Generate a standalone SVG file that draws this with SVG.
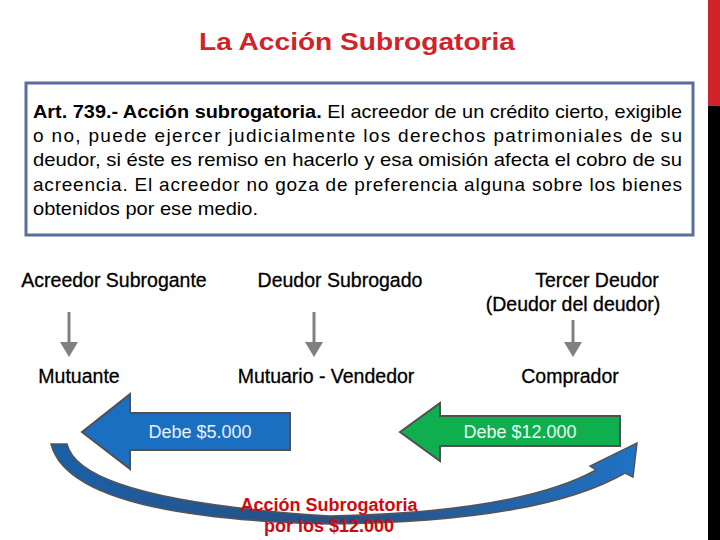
<svg xmlns="http://www.w3.org/2000/svg" width="720" height="540" viewBox="0 0 720 540">
<style>
text{font-family:"Liberation Sans",Arial,sans-serif}
.lbl{font-size:19.5px;fill:#000;text-anchor:middle;font-weight:500;stroke:#000;stroke-width:0.3}
.body{font-size:19px;fill:#000}
.ar{stroke:#808080;stroke-width:3;fill:none}
</style>
<defs>
<marker id="ah" markerWidth="6" markerHeight="6" refX="4" refY="3" orient="auto" markerUnits="strokeWidth"><path d="M0,0 L5,3 L0,6 Z" fill="#808080"/></marker>
<linearGradient id="cg" x1="0" y1="0" x2="1" y2="0"><stop offset="0" stop-color="#1a5fa8"/><stop offset="0.5" stop-color="#2a4f80"/><stop offset="1" stop-color="#1f72c4"/></linearGradient>
</defs>
<rect width="720" height="540" fill="#fff"/>
<rect x="708" y="0" width="12" height="106" fill="#d1232a"/>
<rect x="708" y="106" width="12" height="434" fill="#000"/>
<text x="199" y="50" font-size="24" font-weight="bold" fill="#d1232a" textLength="316" lengthAdjust="spacingAndGlyphs">La Acción Subrogatoria</text>
<g id="article">
<rect x="26" y="83" width="667" height="152" fill="#fff" stroke="#5a6e9a" stroke-width="3"/>
<text class="body" x="33" y="118" textLength="649" lengthAdjust="spacingAndGlyphs"><tspan font-weight="bold">Art. 739.- Acción subrogatoria.</tspan> El acreedor de un crédito cierto, exigible</text>
<text class="body" x="33" y="142" textLength="649" lengthAdjust="spacing">o no, puede ejercer judicialmente los derechos patrimoniales de su</text>
<text class="body" x="33" y="166" textLength="649" lengthAdjust="spacingAndGlyphs">deudor, si éste es remiso en hacerlo y esa omisión afecta el cobro de su</text>
<text class="body" x="33" y="191" textLength="649" lengthAdjust="spacing">acreencia. El acreedor no goza de preferencia alguna sobre los bienes</text>
<text class="body" x="33" y="215" textLength="225" lengthAdjust="spacingAndGlyphs">obtenidos por ese medio.</text>
</g>
<g id="n1"><text class="lbl" x="114" y="287">Acreedor Subrogante</text></g>
<g id="n2"><text class="lbl" x="340" y="287">Deudor Subrogado</text></g>
<g id="n3"><text class="lbl" x="597" y="287">Tercer Deudor</text><text class="lbl" x="573" y="311">(Deudor del deudor)</text></g>
<g id="n4"><text class="lbl" x="79" y="383">Mutuante</text></g>
<g id="n5"><text class="lbl" x="326" y="383">Mutuario - Vendedor</text></g>
<g id="n6"><text class="lbl" x="570" y="383">Comprador</text></g>
<g id="connectors">
<line class="ar" x1="69" y1="312" x2="69" y2="354" marker-end="url(#ah)"/>
<line class="ar" x1="314" y1="312" x2="314" y2="354" marker-end="url(#ah)"/>
<line class="ar" x1="573" y1="320" x2="573" y2="354" marker-end="url(#ah)"/>
</g>
<g id="blue-arrow">
<path d="M82,432 L130,394 L130,413 L290,413 L290,450 L130,450 L130,469 Z" fill="#1b6fc0" stroke="#505050" stroke-width="2"/>
<text x="200" y="438" font-size="18" fill="#e8f2ff" text-anchor="middle">Debe $5.000</text>
</g>
<g id="green-arrow">
<path d="M400,432 L440,403 L440,416 L620,416 L620,446 L440,446 L440,461 Z" fill="#0fae4f" stroke="#505050" stroke-width="2"/>
<text x="520" y="438" font-size="18" fill="#e8fff0" text-anchor="middle">Debe $12.000</text>
</g>
<g id="curved-arrow">
<path d="M51,444 L67,444 Q 80,500 330,516 Q 520,512 596,470 L 590,466 L 637,443 L 633,477 L 625,473 Q 540,522 330,524 Q 70,518 51,444 Z" fill="url(#cg)" stroke="#555" stroke-width="1.5"/>
</g>
<text x="329" y="511" font-size="18" font-weight="bold" fill="#cc0a12" text-anchor="middle">Acción  Subrogatoria</text>
<text x="329" y="532" font-size="18" font-weight="bold" fill="#cc0a12" text-anchor="middle">por los $12.000</text>
</svg>
